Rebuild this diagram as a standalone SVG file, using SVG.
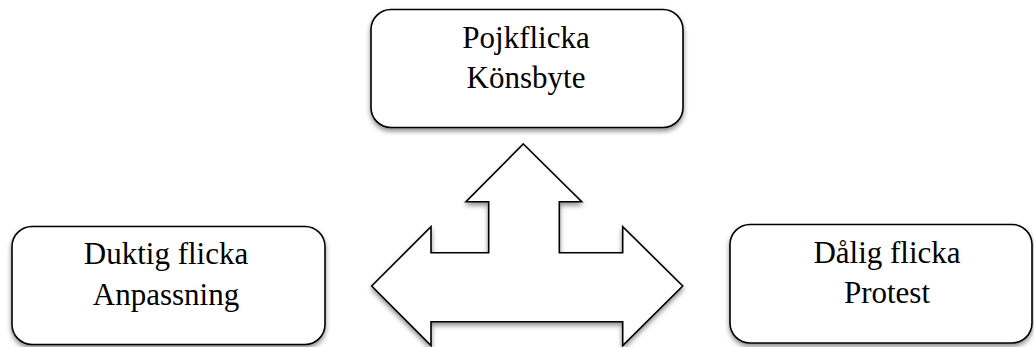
<svg xmlns="http://www.w3.org/2000/svg" width="1034" height="347" viewBox="0 0 1034 347">
<defs>
<filter id="sh" x="-10%" y="-10%" width="130%" height="130%">
<feGaussianBlur in="SourceAlpha" stdDeviation="2.5"/>
<feOffset dx="0" dy="3" result="b"/>
<feComponentTransfer><feFuncA type="linear" slope="0.45"/></feComponentTransfer>
<feMerge><feMergeNode/><feMergeNode in="SourceGraphic"/></feMerge>
</filter>
</defs>
<style>
.box{fill:#fff;stroke:#000;stroke-width:1.6}
.t{font-size:31px;fill:#000;text-anchor:middle}
</style>
<rect width="1034" height="347" fill="#fff"/>
<g id="connectors">
<path class="box" filter="url(#sh)" d="M523.3,144 L581.7,201.7 L559.3,201.7 L559.3,252.7 L622.7,252.7 L622.7,226.7 L682.7,286 L622.7,345.5 L622.7,321.7 L431,321.7 L431,345.5 L371.7,286 L431,226.7 L431,252.7 L488.7,252.7 L488.7,201.7 L466,201.7 Z"/>
</g>
<g font-family="'Liberation Serif', 'DejaVu Serif', serif">
<g id="node-top">
<rect class="box" filter="url(#sh)" x="371" y="9.5" width="312" height="118" rx="20"/>
<text class="t" x="526" y="48">Pojkflicka</text>
<text class="t" x="526" y="88">Könsbyte</text>
</g>
<g id="node-left">
<rect class="box" filter="url(#sh)" x="12" y="226.5" width="313" height="118" rx="20"/>
<text class="t" x="166" y="264">Duktig flicka</text>
<text class="t" x="166" y="305">Anpassning</text>
</g>
<g id="node-right">
<rect class="box" filter="url(#sh)" x="730" y="224.5" width="302" height="118.5" rx="20"/>
<text class="t" x="887" y="263">Dålig flicka</text>
<text class="t" x="887" y="303">Protest</text>
</g>
</g>
</svg>
